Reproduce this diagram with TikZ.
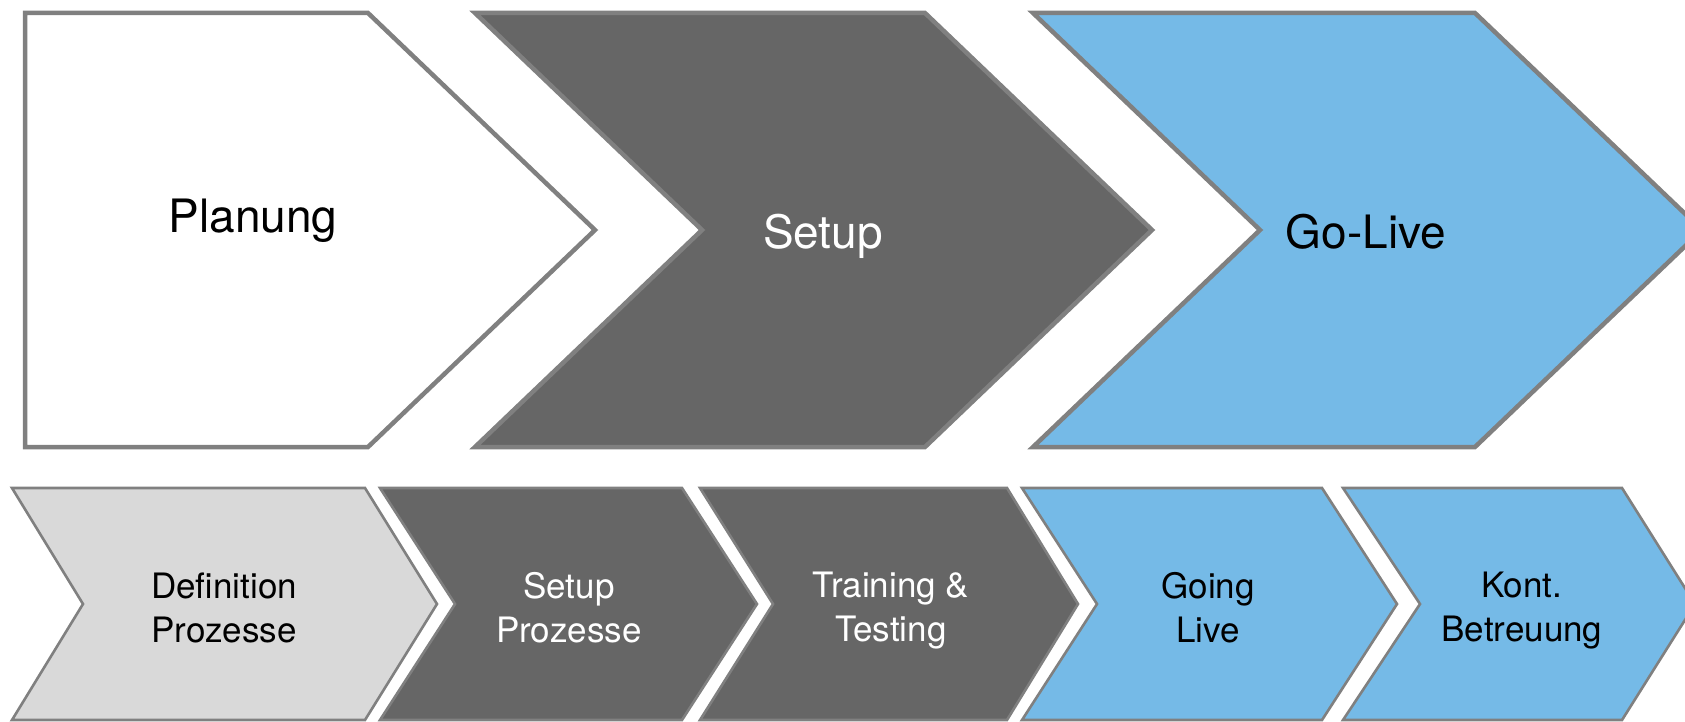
\documentclass[tikz,border=0pt]{standalone}
\usepackage{fontspec}
\setmainfont{TeX Gyre Heros}
\definecolor{edge}{HTML}{808080}
\definecolor{darkfill}{HTML}{666666}
\definecolor{bluefill}{HTML}{75BAE7}
\definecolor{lightfill}{HTML}{D9D9D9}
\begin{document}
\begin{tikzpicture}[x=1pt,y=-1pt,
  bigshape/.style={draw=edge,line width=4.5pt,line join=miter},
  smallshape/.style={draw=edge,line width=2.6pt,line join=miter},
  bigtext/.style={font=\fontsize{46}{55}\selectfont,anchor=base,inner sep=0pt},
  smalltext/.style={font=\fontsize{35}{44}\selectfont,align=center,anchor=base,inner sep=0pt},
  ]
\useasboundingbox (0,0) rectangle (1685,722);
% top row
\draw[bigshape,fill=white] (25,13) -- (368,13) -- (595,230) -- (368,447) -- (25,447) -- cycle;
\draw[bigshape,fill=darkfill] (475,13) -- (925,13) -- (1152,230) -- (925,447) -- (475,447) -- (702,230) -- cycle;
\draw[bigshape,fill=bluefill] (1033,13) -- (1475,13) -- (1702,230) -- (1475,447) -- (1033,447) -- (1260,230) -- cycle;
\node[bigtext] (planung) at (253,232) {Planung};
\node[bigtext,text=white] (setup) at (823,248) {Setup};
\node[bigtext] (golive) at (1366,248) {Go-Live};
% bottom row
\draw[smallshape,fill=lightfill] (12,488) -- (365,488) -- (437,604) -- (365,720) -- (12,720) -- (83,604) -- cycle;
\draw[smallshape,fill=darkfill] (380,488) -- (682,488) -- (757,604) -- (682,720) -- (380,720) -- (455,604) -- cycle;
\draw[smallshape,fill=darkfill] (700,488) -- (1007,488) -- (1078,604) -- (1007,720) -- (700,720) -- (773,604) -- cycle;
\draw[smallshape,fill=bluefill] (1022,488) -- (1322,488) -- (1397,604) -- (1322,720) -- (1022,720) -- (1097,604) -- cycle;
\draw[smallshape,fill=bluefill] (1343,488) -- (1622,488) -- (1695,604) -- (1622,720) -- (1343,720) -- (1420,604) -- cycle;
\node[smalltext] (defp) at (224,642) {Definition\\Prozesse};
\node[smalltext,text=white] (setp) at (569,642) {Setup\\Prozesse};
\node[smalltext,text=white] (train) at (891,641) {Training \&\\Testing};
\node[smalltext] (going) at (1208,642) {Going\\Live};
\node[smalltext] (kont) at (1522,641) {Kont.\\Betreuung};
\end{tikzpicture}
\end{document}
